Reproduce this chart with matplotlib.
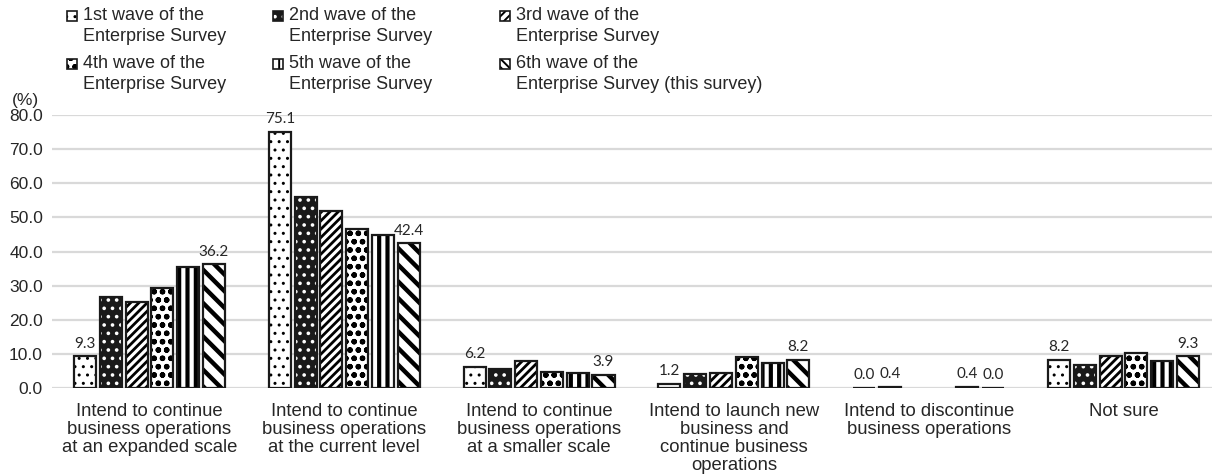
import numpy as np
import matplotlib
matplotlib.use("Agg")
import matplotlib.pyplot as plt
from matplotlib.patches import Rectangle

plt.rcParams["font.family"] = ["Liberation Sans", "DejaVu Sans"]

categories = [
    "Intend to continue\nbusiness operations\nat an expanded scale",
    "Intend to continue\nbusiness operations\nat the current level",
    "Intend to continue\nbusiness operations\nat a smaller scale",
    "Intend to launch new\nbusiness and\ncontinue business\noperations",
    "Intend to discontinue\nbusiness operations",
    "Not sure",
]
wave_names = [
    "1st wave of the\nEnterprise Survey",
    "2nd wave of the\nEnterprise Survey",
    "3rd wave of the\nEnterprise Survey",
    "4th wave of the\nEnterprise Survey",
    "5th wave of the\nEnterprise Survey",
    "6th wave of the\nEnterprise Survey (this survey)",
]
wave1 = [9.3, 75.1, 6.2, 1.2, 0.0, 8.2]
wave2 = [26.8, 56.1, 5.7, 4.1, 0.4, 6.6]
wave3 = [25.3, 51.9, 7.9, 4.5, np.nan, 9.5]
wave4 = [29.2, 46.5, 4.8, 9.0, np.nan, 10.2]
wave5 = [35.4, 44.9, 4.5, 7.2, 0.4, 7.9]
wave6 = [36.2, 42.4, 3.9, 8.2, 0.0, 9.3]
waves = [wave1, wave2, wave3, wave4, wave5, wave6]

# which bars carry a value label: (wave index, category index)
labelled = [(0, 0), (5, 0), (0, 1), (5, 1), (0, 2), (5, 2), (0, 3), (5, 3),
            (0, 4), (1, 4), (4, 4), (5, 4), (0, 5), (5, 5)]

# fill colour, hatch, hatch colour, hatch line width for each wave
styles = [
    ("white", "..", "black", 1.0),
    ("#1a1a1a", "..", "white", 1.4),
    ("white", "////", "black", 2.0),
    ("white", "oo", "black", 1.6),
    ("white", "||", "black", 3.0),
    ("white", "\\\\", "black", 3.2),
]
# the legend swatches are tiny, so they get finer versions of the hatches
legend_hatches = ["..", "..", "////", "oo", "||", "\\\\\\\\"]

W, H = 1218, 474
fig = plt.figure(figsize=(W / 100, H / 100), dpi=100)
ax = fig.add_axes([52 / W, 86 / H, 1160 / W, 273 / H])

x = np.arange(len(categories))
step = 0.1323
width = 0.113

for i, (vals, (face, hatch, hcolor, hlw)) in enumerate(zip(waves, styles)):
    pos = x + (i - 2.5) * step
    v = np.array(vals, dtype=float)
    with plt.rc_context({"hatch.linewidth": hlw}):
        ax.bar(pos, v, width, facecolor=face, edgecolor=hcolor,
               hatch=hatch, linewidth=0, zorder=2)
    # black outline drawn over the hatched fill
    ax.bar(pos, v, width, fill=False, edgecolor="#1a1a1a", linewidth=1.6, zorder=3)
    for j in range(len(categories)):
        if (i, j) in labelled:
            ax.annotate(f"{v[j]:.1f}", (pos[j], v[j]), xytext=(0, 4),
                        textcoords="offset points", ha="center", va="bottom",
                        fontsize=11, family=["Lato", "DejaVu Sans"], color="#262626")

ax.set_ylim(0, 80)
ax.set_xlim(-0.5, 5.454)
ticks = np.arange(0, 81, 10)
ax.set_yticks(ticks)
ax.set_yticklabels([f"{t:.1f}" for t in ticks], fontsize=12.5, color="#262626")
ax.set_xticks(x)
ax.set_xticklabels(categories, fontsize=13.3, linespacing=1.1, color="#262626")
ax.tick_params(axis="y", length=0, pad=6.5)
ax.tick_params(axis="x", length=0, pad=10.5)
ax.grid(axis="y", color="#d9d9d9", linewidth=1.6, zorder=0)
ax.set_axisbelow(True)
for s in ax.spines.values():
    s.set_visible(False)

fig.text(12 / W, 1 - 100 / H, "(%)", fontsize=12.5, va="center", ha="left",
         color="#262626")

# legend laid out by hand: three columns, two rows
col_x = [67, 273, 500]
row_y = [11, 59]
for i, (name, (face, _, hcolor, hlw)) in enumerate(zip(wave_names, styles)):
    cx = col_x[i % 3]
    ry = row_y[i // 3]
    with plt.rc_context({"hatch.linewidth": min(hlw, 1.4)}):
        r = Rectangle((cx / W, 1 - (ry + 10) / H), 10 / W, 10 / H,
                      transform=fig.transFigure, facecolor=face, edgecolor=hcolor,
                      hatch=legend_hatches[i], linewidth=0)
    fig.add_artist(r)
    fig.add_artist(Rectangle((cx / W, 1 - (ry + 10) / H), 10 / W, 10 / H,
                             transform=fig.transFigure, fill=False,
                             edgecolor="#1a1a1a", linewidth=1.2))
    fig.text((cx + 16) / W, 1 - (ry - 4) / H, name, fontsize=13,
             va="top", ha="left", linespacing=1.27, color="#262626")

fig.savefig("out.png", dpi=100)
